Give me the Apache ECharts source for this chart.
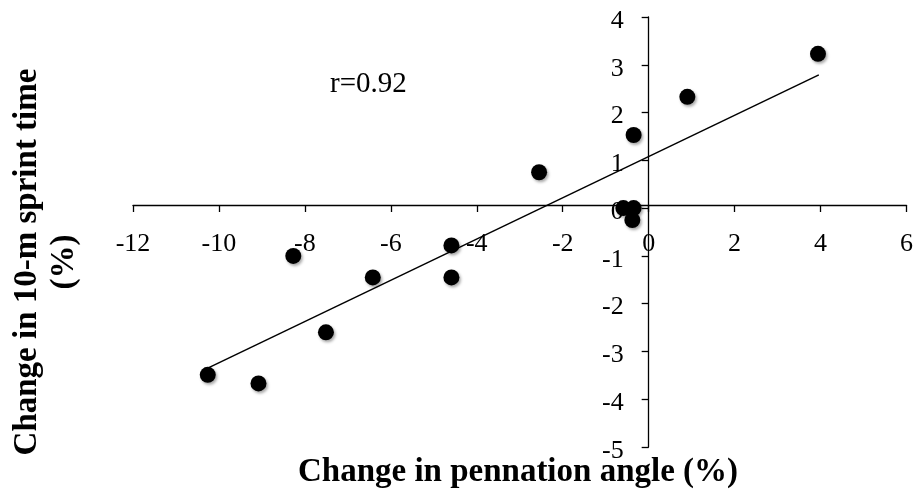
<!DOCTYPE html>
<html><head><meta charset="utf-8">
<script src="https://cdn.jsdelivr.net/npm/echarts@6/dist/echarts.min.js"></script>
<style>html,body{margin:0;padding:0;background:#fff}#c{width:916px;height:492px}</style>
</head><body><div id="c"></div>
<script>
const pennationChange = [-10.26, -9.08, -8.27, -7.51, -6.42, -4.59, -4.59, -2.55, -0.59, -0.35, -0.35, -0.38, 0.90, 3.94];
const sprintChange    = [-3.49, -3.67, -1.00, -2.60, -1.45, -0.78, -1.45, 0.75, 0.00, 0.00, 1.53, -0.25, 2.33, 3.23];
const trendX = [-10.26, 3.96];
const trendY = [-3.35, 2.79];
const xTicks = {min: -12, max: 6, interval: 2};
const yTicks = {min: -5, max: 4, interval: 1};
const rLabel = 'r=0.92';
const xTitle = 'Change in pennation angle (%)';
const yTitle = 'Change in 10-m sprint time\n(%)';

const FONT = '"Liberation Serif", "DejaVu Serif", serif';
const GRID = {left: 133, right: 8, top: 17, bottom: 45};
const H = 492;
const chart = echarts.init(document.getElementById('c'), null, {renderer: 'canvas'});
const axisCommon = {
  axisLine: {onZero: false, lineStyle: {color: '#000', width: 1.3}},
  axisTick: {show: true, length: 7, lineStyle: {color: '#000', width: 1.3}},
  splitLine: {show: false}
};
function build(xOff, yOff) {
  return {
    animation: false,
    backgroundColor: '#fff',
    grid: Object.assign({containLabel: false}, GRID),
    xAxis: Object.assign({
      type: 'value', min: xTicks.min, max: xTicks.max, interval: xTicks.interval,
      position: 'bottom', offset: xOff,
      axisLabel: {color: '#000', fontFamily: FONT, fontSize: 26, margin: 26}
    }, axisCommon),
    yAxis: Object.assign({
      type: 'value', min: yTicks.min, max: yTicks.max, interval: yTicks.interval,
      position: 'left', offset: yOff,
      axisLabel: {
        color: '#000', margin: 25,
        formatter: '{v|{value}}',
        rich: {v: {fontFamily: FONT, fontSize: 26, color: '#000', padding: [8, 0, 0, 0]}}
      }
    }, axisCommon),
    series: [
      {
        type: 'line',
        data: trendX.map((x, i) => [x, trendY[i]]),
        symbol: 'none',
        lineStyle: {color: '#000', width: 1.5},
        z: 2
      },
      {
        type: 'scatter',
        data: pennationChange.map((x, i) => [x, sprintChange[i]]),
        symbol: 'circle',
        symbolSize: 16,
        itemStyle: {color: '#000', opacity: 1, shadowColor: 'rgba(0,0,0,0.35)', shadowBlur: 3, shadowOffsetX: 1.5, shadowOffsetY: 2},
        z: 3
      }
    ],
    graphic: [
      {type: 'text', x: 330, y: 84, style: {text: rLabel, font: '29px ' + FONT, fill: '#000', verticalAlign: 'middle'}},
      {type: 'text', x: 518, y: 472, style: {text: xTitle, font: 'bold 33px ' + FONT, fill: '#000', align: 'center', verticalAlign: 'middle'}},
      {type: 'text', x: 46, y: 262, rotation: Math.PI / 2, style: {text: yTitle, font: 'bold 33px ' + FONT, fill: '#000', align: 'center', verticalAlign: 'middle', lineHeight: 37}}
    ]
  };
}
chart.setOption(build(0, 0));
const origin = chart.convertToPixel({gridIndex: 0}, [0, 0]);
const xOff = origin[1] - (H - GRID.bottom);
const yOff = GRID.left - origin[0];
chart.setOption(build(xOff, yOff), true);
</script></body></html>
